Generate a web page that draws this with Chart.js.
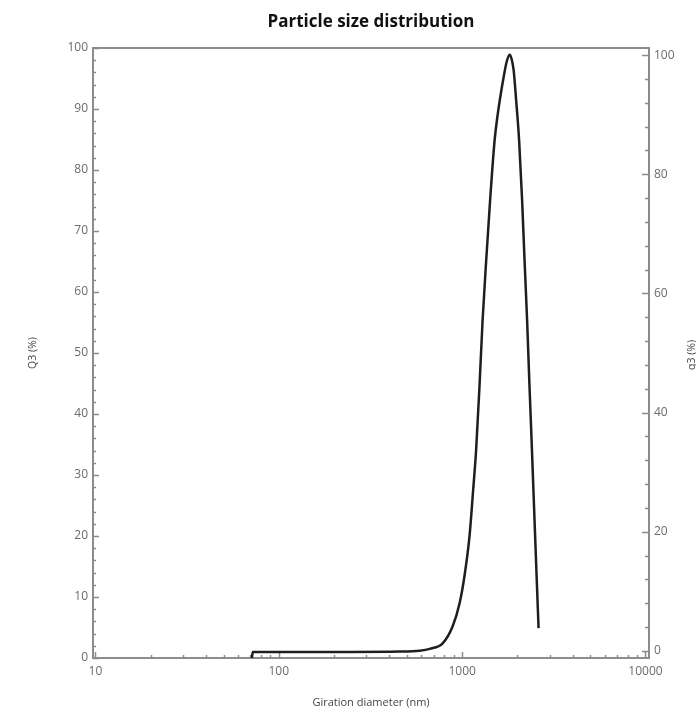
<!DOCTYPE html>
<html>
<head>
<meta charset="utf-8">
<script src="https://cdn.jsdelivr.net/npm/chart.js@4/dist/chart.umd.min.js"></script>
<style>
  body { margin: 0; background: #fff; }
  #wrap { width: 696px; height: 711px; position: relative; }
</style>
</head>
<body>
<div id="wrap"><canvas id="chart-area"></canvas></div>
<script>
// giration diameter (nm)
var diameters = [71.3, 72.2, 243.8, 456.4, 586.9, 665.2, 782.8, 887.9, 969.2, 1031.8,
    1098.7, 1148.1, 1192, 1245.5, 1293.2, 1351.5, 1421.3, 1503.8, 1561.3, 1621.2,
    1683.5, 1748, 1815.1, 1861, 1908.5, 1969.6, 2045, 2123.2, 2191, 2260.9,
    2327.1, 2392, 2459, 2540.6, 2611];
// distribution (%), on the left axis
var q3Values = [0, 1.0, 1.0, 1.05, 1.2, 1.5, 2.4, 5.2, 9.0, 13.6,
    20.2, 27.5, 34.1, 45.0, 55.4, 65.0, 75.1, 84.9, 89.0, 92.3,
    95.2, 97.7, 98.9, 98.2, 96.4, 91.5, 84.9, 75.1, 65.0, 55.4,
    45.0, 35.7, 25.9, 14.4, 4.9];
var xTickValues = [10, 100, 1000, 10000];
var leftTickValues = [0, 10, 20, 30, 40, 50, 60, 70, 80, 90, 100];
var rightTickValues = [0, 20, 40, 60, 80, 100];

var tickFont = { family: 'Open Sans', size: 12 };
var tickColor = '#6b6b6b';
var frameColor = '#8c8c8c';

var axisDecor = {
    id: 'axisDecor',
    beforeDatasetsDraw: function (chart) {
        var ctx = chart.ctx;
        var a = chart.chartArea;
        var x = chart.scales.x, y = chart.scales.y, y1 = chart.scales.y1;
        ctx.save();
        ctx.strokeStyle = frameColor;
        ctx.lineWidth = 2;
        ctx.strokeRect(a.left, a.top, a.right - a.left, a.bottom - a.top);
        ctx.lineWidth = 1.5;
        ctx.beginPath();
        // left axis, minor every 2
        for (var v = 0; v <= 100; v += 2) {
            var py = Math.round(y.getPixelForValue(v)) + 0.5;
            var len = v % 10 === 0 ? 6 : 3;
            ctx.moveTo(a.left, py);
            ctx.lineTo(a.left + len, py);
        }
        // right axis, minor every 4
        for (var w = 0; w <= 100; w += 4) {
            var py2 = Math.round(y1.getPixelForValue(w)) + 0.5;
            var len2 = w % 20 === 0 ? 7 : 4;
            ctx.moveTo(a.right, py2);
            ctx.lineTo(a.right - len2, py2);
        }
        // log x ticks
        for (var d = 10; d <= 10000; d *= 10) {
            for (var m = 1; m <= 9; m++) {
                var val = d * m;
                if (val > x.max) break;
                var px = Math.round(x.getPixelForValue(val)) + 0.5;
                var len3 = m === 1 ? 6 : 3;
                ctx.moveTo(px, a.bottom);
                ctx.lineTo(px, a.bottom - len3);
            }
        }
        ctx.stroke();
        // right axis title, reads bottom to top
        ctx.translate(692, 355);
        ctx.rotate(-Math.PI / 2);
        ctx.fillStyle = '#444';
        ctx.font = '10.5px "Open Sans"';
        ctx.textAlign = 'center';
        ctx.textBaseline = 'middle';
        ctx.fillText('q3 (%)', 0, 0);
        ctx.restore();
    }
};

window.onload = function () {
    var ctx = document.getElementById('chart-area').getContext('2d');
    window.myChart = new Chart(ctx, getconfig());
};

function getconfig() {
    var points = [];
    for (var i = 0; i < diameters.length; i++) {
        points.push({ x: diameters[i], y: q3Values[i] });
    }
    return {
        type: 'line',
        data: {
            datasets: [{
                label: 'q3',
                data: points,
                yAxisID: 'y',
                borderColor: '#1e1e1e',
                borderWidth: 2.5,
                pointRadius: 0,
                fill: false,
                cubicInterpolationMode: 'monotone'
            }]
        },
        options: {
            responsive: true,
            maintainAspectRatio: false,
            animation: false,
            layout: { padding: 0 },
            plugins: {
                legend: { display: false },
                tooltip: { enabled: false },
                title: {
                    display: true,
                    text: 'Particle size distribution',
                    fullSize: false,
                    color: '#111',
                    font: { family: 'Open Sans', size: 17, weight: 'bold', lineHeight: 1.2 },
                    padding: { top: 12, bottom: 15.6 }
                }
            },
            scales: {
                x: {
                    type: 'logarithmic',
                    min: 9.7,
                    max: 10450,
                    afterBuildTicks: function (scale) {
                        scale.ticks = xTickValues.map(function (v) { return { value: v }; });
                    },
                    afterFit: function (scale) { scale.height = 53; },
                    grid: { display: false, drawTicks: false },
                    border: { display: false },
                    ticks: {
                        autoSkip: false,
                        maxRotation: 0,
                        padding: 6,
                        color: tickColor,
                        font: tickFont,
                        callback: function (v) { return String(v); }
                    },
                    title: {
                        display: true,
                        text: 'Giration diameter (nm)',
                        color: '#444',
                        font: { family: 'Open Sans', size: 11, lineHeight: 1.2 },
                        padding: { top: 2, bottom: 2 }
                    }
                },
                y: {
                    position: 'left',
                    min: 0,
                    max: 100,
                    afterBuildTicks: function (scale) {
                        scale.ticks = leftTickValues.map(function (v) { return { value: v }; });
                    },
                    afterFit: function (scale) { scale.width = 93; },
                    grid: { display: false, drawTicks: false },
                    border: { display: false },
                    ticks: { padding: 5, color: tickColor, font: tickFont },
                    title: {
                        display: true,
                        text: 'Q3 (%)',
                        color: '#444',
                        font: { family: 'Open Sans', size: 10.5, lineHeight: 1.2 },
                        padding: { top: 27, bottom: 0 }
                    }
                },
                y1: {
                    position: 'right',
                    min: -1.2,
                    max: 101.2,
                    afterBuildTicks: function (scale) {
                        scale.ticks = rightTickValues.map(function (v) { return { value: v }; });
                    },
                    afterFit: function (scale) { scale.width = 47; },
                    grid: { display: false, drawTicks: false },
                    border: { display: false },
                    ticks: { padding: 5, color: tickColor, font: tickFont }
                }
            }
        },
        plugins: [axisDecor]
    };
}
</script>
</body>
</html>
